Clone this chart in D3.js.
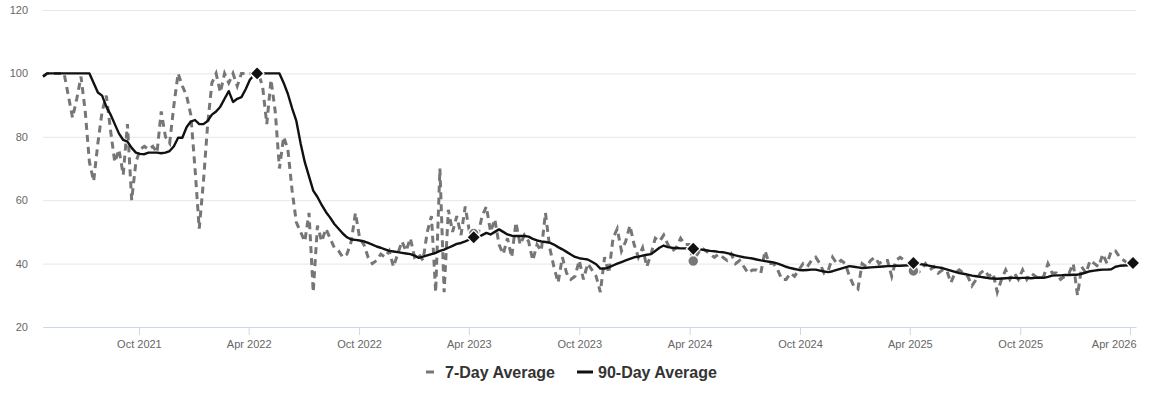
<!DOCTYPE html>
<meta charset="utf-8">
<style>
body { margin: 0; background: #fff; font-family: "Liberation Sans", Arial, sans-serif; }
.grid line { stroke: #e6e6e6; }
.grid text { fill: #666; font-size: 11px; }
.xaxis text { fill: #666; font-size: 11px; }
.xaxis line, .xaxis path { stroke: #ccd6eb; }
.seven { fill: none; stroke: #767676; stroke-width: 3px; stroke-dasharray: 7,5; }
.ninety { fill: none; stroke: #111; stroke-width: 2.4px; stroke-linejoin: round; }
.legend text { font-size: 16px; font-weight: bold; fill: #333; }
</style>
<body>
<script src="https://cdn.jsdelivr.net/npm/d3@7"></script>
<script>

// weekly samples, first one on 2021-04-25
var startDate = "2021-04-25";
var stepDays = 7;

var sevenDay = [
 99,100,100,100,100,100,93,86,92,99,
 88,72,66,78,88,93,82,72,76,68,
 84,60,72,76,77,76,77,75,88,80,
 78,90,100,96,93,87,70,51,66,84,
 97,100,94,100,97,100,96,100,100,100,
 100,100,96,84,98,88,70,80,76,63,
 53,50,47,56,31,52,47,51,48,45,
 44,42,43,47,56,48,46,42,40,41,
 43,42,44,39,43,47,44,48,42,43,
 41,50,55,31,70,31,57,50,55,49,
 58,50,47,49,55,58,50,54,46,43,
 48,42,53,46,49,47,41,46,44,56,
 45,39,34,42,37,35,36,41,35,40,
 38,36,31,42,37,48,51,44,47,52,
 46,42,45,39,43,48,47,49,46,44,
 45,48,46,46,41,43,45,44,43,42,
 43,42,41,43,40,41,39,37,38,38,
 37,44,40,40,38,35,35,37,36,38,
 40,39,41,42,40,37,38,42,40,41,
 40,36,33,32,40,39,41,42,40,41,
 41,36,41,42,41,40,38,37,38,40,
 38,39,37,38,38,34,37,38,37,36,
 33,35,37,38,36,37,31,35,38,35,
 37,35,38,35,37,36,35,36,40,37,
 37,35,36,37,40,30,39,37,41,40,
 39,43,40,44,44,42,41,40,41
];

var ninetyDay = [
 99,100,100,100,100,100,100,100,100,100,
 100,100,97,94,93,89.5,87,84,81,79,
 78.5,76.5,75,74.6,74.5,75,75,75,74.8,75,
 75.5,77,79.7,79.7,83,84.8,85.3,84,84,85,
 87,88,89.5,92,94.4,91,92,92.5,95,98,
 99.5,100,100,100,100,100,100,97,93.5,89,
 85,78,72,67.5,63,61,58.5,56.3,54.5,52.5,
 51,49.5,48.3,47.6,47.5,47.3,47,46.5,46,45.4,
 45,44.5,44,43.8,43.6,43.4,43.2,43,42.5,41.8,
 42.2,42.6,43,43.4,44,44.4,45,45.6,46.2,46.5,
 47,47.6,48,48.2,49,49.7,49.2,50,50.8,50,
 49.2,48.8,48.7,48.7,48.7,48.5,47.8,47.3,47,46.8,
 46.6,46,45.2,44.5,43.7,42.9,42.1,41.7,41.5,41.3,
 40.6,39.8,38.4,38.4,38.8,39.4,40,40.5,41,41.5,
 42,42.2,42.5,42.8,43,44,45,45.7,45.2,45,
 44.9,44.8,44.8,44.8,44.7,44.6,44.4,44.2,44,43.9,
 43.7,43.6,43.3,43,42.6,42.3,42,41.8,41.6,41.3,
 41,40.8,40.6,40.4,40,39.5,39,38.6,38.3,38,
 37.9,38,38.1,38.1,37.8,37.5,37.3,37.6,38,38.4,
 38.8,39.2,39,38.8,38.6,38.7,38.8,38.9,39,39.1,
 39.2,39.2,39.3,39.3,39.4,39.5,40.2,40.1,39.8,39.6,
 39.3,39,38.8,38.6,38.2,37.8,37.4,37,36.8,36.5,
 36.2,36,35.8,35.6,35.4,35.3,35.2,35.3,35.4,35.5,
 35.5,35.4,35.5,35.5,35.4,35.5,35.6,35.5,35.8,36.2,
 36.3,36.3,36.4,36.4,36.5,36.5,36.8,37.2,37.6,37.8,
 38,38.1,38.1,38.2,39,39.3,39.4,39.5,40
];

// yearly markers
var markerDates = ["2022-04-15", "2023-04-09", "2024-04-07", "2025-04-07", "2026-04-06"];
var markerSeven = [100, 49.5, 40.8, 37.7, 40.5];
var markerNinety = [100, 48.3, 44.7, 40.2, 40.2];

var yTicks = [20, 40, 60, 80, 100, 120];
var xTickDates = ["2021-10-01", "2022-04-01", "2022-10-01", "2023-04-01", "2023-10-01",
                  "2024-04-01", "2024-10-01", "2025-04-01", "2025-10-01", "2026-04-01"];
var legendLabels = ["7-Day Average", "90-Day Average"];

var W = 1150, H = 401;
var margin = {top: 10, right: 14, bottom: 74, left: 43};
var width = W - margin.left - margin.right,
    height = H - margin.top - margin.bottom;

var parse = d3.timeParse("%Y-%m-%d");
var t0 = parse(startDate);

var seven = sevenDay.map(function(v, i) { return {date: d3.timeDay.offset(t0, i * stepDays), value: v}; });
var ninety = ninetyDay.map(function(v, i) { return {date: d3.timeDay.offset(t0, i * stepDays), value: v}; });
var markers = markerDates.map(function(d, i) { return {date: parse(d), seven: markerSeven[i], ninety: markerNinety[i]}; });

var svg = d3.select("body").append("svg")
    .attr("width", W).attr("height", H)
    .append("g")
    .attr("transform", "translate(" + margin.left + "," + margin.top + ")");

var x = d3.scaleTime().domain([t0, parse("2026-04-11")]).range([0, width]);
var y = d3.scaleLinear().domain([20, 120]).range([height, 0]);

// gridlines + y labels
var gy = svg.append("g").attr("class", "grid")
    .call(d3.axisLeft(y).tickValues(yTicks).tickSize(-width).tickPadding(15));
gy.select(".domain").remove();

// x axis
var xTicks = xTickDates.map(parse);
var gx = svg.append("g").attr("class", "xaxis")
    .attr("transform", "translate(0," + height + ")")
    .call(d3.axisBottom(x).tickValues(xTicks)
        .tickFormat(d3.timeFormat("%b %Y")).tickSize(8).tickPadding(3).tickSizeOuter(0));
gx.selectAll("text").attr("dy", "0.9em");
// keep the last label inside the plot edge
var lastTick = xTicks[xTicks.length - 1];
gx.selectAll(".tick text").filter(function(d) { return +d === +lastTick; })
    .attr("text-anchor", "end")
    .attr("x", width - x(lastTick));

var line = d3.line()
    .x(function(d) { return x(d.date); })
    .y(function(d) { return y(d.value); });

svg.append("path").datum(seven).attr("class", "seven").attr("d", line);
svg.append("path").datum(ninety).attr("class", "ninety").attr("d", line);

// markers
svg.selectAll(".mcircle").data(markers).enter().append("circle")
    .attr("class", "mcircle")
    .attr("cx", function(d) { return x(d.date); })
    .attr("cy", function(d) { return y(d.seven); })
    .attr("r", 5.5)
    .attr("fill", "#777")
    .attr("stroke", "#fff").attr("stroke-width", 1.5);

svg.selectAll(".mdiamond").data(markers).enter().append("path")
    .attr("class", "mdiamond")
    .attr("d", d3.symbol().type(d3.symbolDiamond2).size(90))
    .attr("transform", function(d) { return "translate(" + x(d.date) + "," + y(d.ninety) + ")"; })
    .attr("fill", "#111")
    .attr("stroke", "#fff").attr("stroke-width", 2.5)
    .attr("paint-order", "stroke");

// legend
var legend = d3.select("svg").append("g").attr("class", "legend")
    .attr("transform", "translate(0,372)");
var lg1 = legend.append("g").attr("transform", "translate(424,0)");
lg1.append("line").attr("x1", 2).attr("x2", 10).attr("y1", 0).attr("y2", 0)
    .attr("stroke", "#767676").attr("stroke-width", 3);
lg1.append("text").attr("x", 21).attr("dy", "0.35em").text(legendLabels[0]);

var lg2 = legend.append("g").attr("transform", "translate(577,0)");
lg2.append("line").attr("x1", 0).attr("x2", 16).attr("y1", 0).attr("y2", 0)
    .attr("stroke", "#111").attr("stroke-width", 3);
lg2.append("text").attr("x", 21).attr("dy", "0.35em").text(legendLabels[1]);

</script>
</body>
